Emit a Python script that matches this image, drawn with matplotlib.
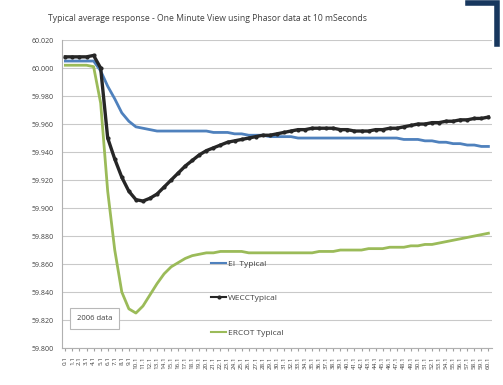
import matplotlib
matplotlib.use('Agg')

import matplotlib.pyplot as plt
from matplotlib.lines import Line2D

plt.rcParams.update({
    'font.family': ['Open Sans', 'DejaVu Sans'],
    'font.size': 6,
})

# seconds 0..60 (one value per second)
seconds = list(range(61))
tick_labels = [f"{s}.1" for s in seconds]

ei = [60.005, 60.005, 60.005, 60.005, 60.005, 59.998, 59.987, 59.978, 59.968, 59.962,
      59.958, 59.957, 59.956, 59.955, 59.955, 59.955, 59.955, 59.955, 59.955, 59.955,
      59.955, 59.954, 59.954, 59.954, 59.953, 59.953, 59.952, 59.952, 59.952, 59.951,
      59.951, 59.951, 59.951, 59.950, 59.950, 59.950, 59.950, 59.950, 59.950, 59.950,
      59.950, 59.950, 59.950, 59.950, 59.950, 59.950, 59.950, 59.950, 59.949, 59.949,
      59.949, 59.948, 59.948, 59.947, 59.947, 59.946, 59.946, 59.945, 59.945, 59.944,
      59.944]

wecc = [60.008, 60.008, 60.008, 60.008, 60.009, 60.000, 59.950, 59.935, 59.922, 59.912,
        59.906, 59.905, 59.907, 59.910, 59.915, 59.920, 59.925, 59.930, 59.934, 59.938,
        59.941, 59.943, 59.945, 59.947, 59.948, 59.949, 59.950, 59.951, 59.952, 59.952,
        59.953, 59.954, 59.955, 59.956, 59.956, 59.957, 59.957, 59.957, 59.957, 59.956,
        59.956, 59.955, 59.955, 59.955, 59.956, 59.956, 59.957, 59.957, 59.958, 59.959,
        59.960, 59.960, 59.961, 59.961, 59.962, 59.962, 59.963, 59.963, 59.964, 59.964,
        59.965]

ercot = [60.002, 60.002, 60.002, 60.002, 60.001, 59.975, 59.912, 59.870, 59.840, 59.828,
         59.825, 59.830, 59.838, 59.846, 59.853, 59.858, 59.861, 59.864, 59.866, 59.867,
         59.868, 59.868, 59.869, 59.869, 59.869, 59.869, 59.868, 59.868, 59.868, 59.868,
         59.868, 59.868, 59.868, 59.868, 59.868, 59.868, 59.869, 59.869, 59.869, 59.870,
         59.870, 59.870, 59.870, 59.871, 59.871, 59.871, 59.872, 59.872, 59.872, 59.873,
         59.873, 59.874, 59.874, 59.875, 59.876, 59.877, 59.878, 59.879, 59.880, 59.881,
         59.882]

yticks = [59.800, 59.820, 59.840, 59.860, 59.880, 59.900, 59.920,
          59.940, 59.960, 59.980, 60.000, 60.020]

_BLUE  = '#4f81bd'
_BLACK = '#262626'
_GREEN = '#9bbb59'
_GRID  = '#c9c9c9'
_TXT   = '#404040'

fig = plt.figure(figsize=(5.03, 3.85), dpi=100, facecolor='white')
ax = fig.add_axes([0.123, 0.096, 0.855, 0.8])

ax.plot(seconds, ei, color=_BLUE, lw=2.0, label='EI  Typical', zorder=3)
ax.plot(seconds, wecc, color=_BLACK, lw=2.4, marker='o', ms=2.0,
        label='WECCTypical', zorder=4)
ax.plot(seconds, ercot, color=_GREEN, lw=2.0, label='ERCOT Typical', zorder=3)

ax.set_xlim(-0.5, 60.5)
ax.set_ylim(59.800, 60.020)
ax.set_yticks(yticks)
ax.set_yticklabels([f"{v:.3f}" for v in yticks], fontsize=5, color=_TXT)
ax.set_xticks(seconds)
ax.set_xticklabels(tick_labels, rotation=90, fontsize=4.5, color=_TXT)
ax.tick_params(axis='x', length=2, color='#a0a0a0', pad=4)
ax.tick_params(axis='y', length=0, pad=6)
ax.grid(axis='y', color=_GRID, lw=0.8)
ax.set_axisbelow(True)
for side in ('top', 'right'):
    ax.spines[side].set_visible(False)
for side in ('left', 'bottom'):
    ax.spines[side].set_color('#b0b0b0')
    ax.spines[side].set_linewidth(0.8)

handles = [Line2D([], [], color=_BLUE, lw=1.5),
           Line2D([], [], color=_BLACK, lw=1.5, marker='o', ms=2),
           Line2D([], [], color=_GREEN, lw=1.5)]
ax.legend(handles, ['EI  Typical', 'WECCTypical', 'ERCOT Typical'],
          loc='upper left', bbox_to_anchor=(0.33, 0.31), frameon=False,
          fontsize=6, labelspacing=3.2, handlelength=1.8, handletextpad=0.2,
          labelcolor=_TXT)

ax.text(0.035, 0.095, '2006 data', transform=ax.transAxes, fontsize=5.5,
        color=_TXT, va='center', ha='left',
        bbox=dict(boxstyle='square,pad=0.9', fc='white', ec='#b8b8b8', lw=0.8))

fig.text(0.096, 0.953, 'Typical average response - One Minute View using Phasor data at 10 mSeconds',
         fontsize=6.2, color=_TXT, ha='left', va='center')

# slide corner decoration
fig.add_artist(Line2D([0.93, 0.988, 0.988], [0.993, 0.993, 0.885],
                      transform=fig.transFigure, color='#17375e', lw=4,
                      solid_joinstyle='miter'))

fig.savefig('out.png', dpi=100, facecolor='white')
